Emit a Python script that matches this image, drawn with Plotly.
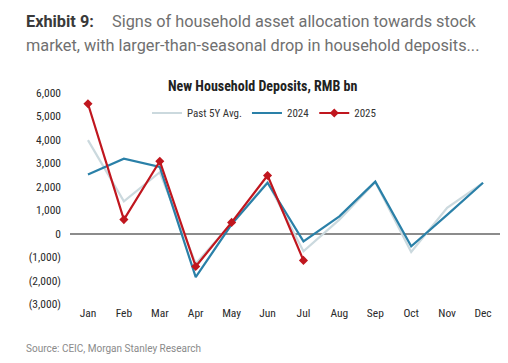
import plotly.graph_objects as go

months = ["Jan", "Feb", "Mar", "Apr", "May", "Jun", "Jul", "Aug", "Sep", "Oct", "Nov", "Dec"]
avg5y = [3990, 1380, 2620, -1280, 450, 2200, -750, 600, 2200, -780, 1100, 2170]
y2024 = [2520, 3200, 2850, -1850, 400, 2170, -330, 740, 2220, -540, 800, 2170]
y2025 = [5540, 600, 3090, -1400, 480, 2480, -1140]

ytick_vals = [6000, 5000, 4000, 3000, 2000, 1000, 0, -1000, -2000, -3000]
ytick_text = ["6,000", "5,000", "4,000", "3,000", "2,000", "1,000", "0",
              "(1,000)", "(2,000)", "(3,000)"]

# plot area in page pixels (target)
PL, PR, PT, PB = 70, 501, 93, 304


def px(x):
    return (x - PL) / (PR - PL)


def py(y):
    return (PB - y) / (PB - PT)


FONT = "Roboto Condensed, Liberation Sans Narrow, Roboto, sans-serif"

fig = go.Figure()
fig.add_trace(go.Scatter(x=months, y=avg5y, name="Past 5Y Avg.", mode="lines",
                         line=dict(color="#cbd9de", width=2.2)))
fig.add_trace(go.Scatter(x=months, y=y2024, name="2024", mode="lines",
                         line=dict(color="#2a80a8", width=2.2)))
fig.add_trace(go.Scatter(x=months[:len(y2025)], y=y2025, name="2025", mode="lines+markers",
                         line=dict(color="#c0161e", width=2.2),
                         marker=dict(symbol="diamond", size=7, color="#c0161e")))

# page has an ~8px body offset; shift margins to compensate
OFF = 8
fig.update_layout(
    width=508, height=363,
    margin=dict(l=PL - OFF, r=508 - PR + OFF, t=PT - OFF, b=363 - PB + OFF),
    paper_bgcolor="white", plot_bgcolor="white",
    font=dict(family=FONT, size=11, color="#333333"),
    showlegend=True,
    legend=dict(orientation="h", x=px(264), xanchor="center", y=py(113), yanchor="middle",
                font=dict(size=11, color="#333333", family=FONT), bgcolor="rgba(0,0,0,0)",
                itemwidth=30, tracegroupgap=0),
    xaxis=dict(range=[-0.5, 11.5], showgrid=False, showline=False, zeroline=False, ticks="",
               tickfont=dict(size=11.5, color="#2a2a2a", family=FONT)),
    yaxis=dict(range=[-3000, 6000], tickvals=ytick_vals, ticktext=ytick_text,
               showgrid=False, showline=False, zeroline=True, zerolinecolor="#8c8c8c",
               zerolinewidth=2, ticks="", ticklabelstandoff=8,
               tickfont=dict(size=11.5, color="#2a2a2a", family=FONT)),
    annotations=[
        dict(text="<b>Exhibit 9:</b>", x=px(24), y=py(21), xref="paper", yref="paper",
             xanchor="left", yanchor="middle", showarrow=False,
             font=dict(size=16.3, color="#3a3a3a", family="Roboto")),
        dict(text="Signs of household asset allocation towards stock", x=px(110),
             y=py(21), xref="paper", yref="paper", xanchor="left", yanchor="middle",
             showarrow=False, font=dict(size=16.3, color="#707070", family="Roboto")),
        dict(text="market, with larger-than-seasonal drop in household deposits...",
             x=px(24), y=py(45), xref="paper", yref="paper", xanchor="left",
             yanchor="middle", showarrow=False,
             font=dict(size=16.3, color="#707070", family="Roboto")),
        dict(text="<b>New Household Deposits, RMB bn</b>", x=px(262), y=py(86),
             xref="paper", yref="paper", xanchor="center", yanchor="middle",
             showarrow=False, font=dict(size=14, color="#222222", family=FONT)),
        dict(text="Source: CEIC, Morgan Stanley Research", x=px(24), y=py(348),
             xref="paper", yref="paper", xanchor="left", yanchor="middle",
             showarrow=False, font=dict(size=10, color="#8a8a8a", family="Roboto")),
    ],
)
fig.update_xaxes(automargin=False)
fig.update_yaxes(automargin=False)

fig.write_html("out.html")
